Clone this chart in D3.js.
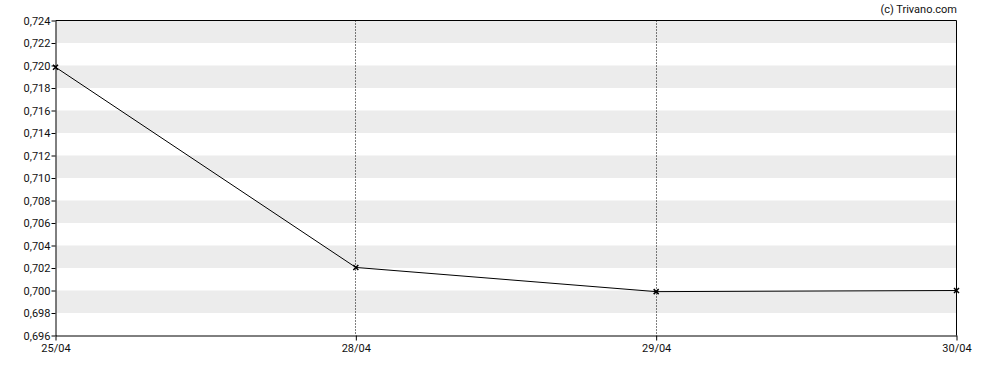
<!DOCTYPE html>
<html><head><meta charset="utf-8">
<script src="https://cdn.jsdelivr.net/npm/d3@7"></script>
<style>body{margin:0;background:#fff}svg{display:block;font-family:Roboto,sans-serif}</style>
</head><body><svg id="c" width="988" height="370"></svg>
<script>
const categories = ["25/04","28/04","29/04","30/04"];
const values = [0.71985, 0.70205, 0.6999, 0.7000];
const yTicks = [0.696,0.698,0.700,0.702,0.704,0.706,0.708,0.710,0.712,0.714,0.716,0.718,0.720,0.722,0.724];
const credit = "(c) Trivano.com";

const svg = d3.select("#c");
const L=55.5, R=956.5, T=20.5, B=335.5;
const x = d3.scalePoint().domain(categories).range([L,R]);
const y = d3.scaleLinear().domain([0.696,0.724]).range([B,T]);
const fmt = v => d3.format(".3f")(v).replace(".",",");

// bands
const bands = yTicks.slice(0,-1).filter((d,i)=>i%2===1);
svg.append("g").selectAll("rect").data(bands).join("rect")
  .attr("x",L).attr("width",R-L)
  .attr("y",d=>y(d+0.002)).attr("height",d=>y(d)-y(d+0.002))
  .attr("fill","#ececec");

// vertical dotted lines
svg.append("g").selectAll("line").data(categories.slice(1,-1)).join("line")
  .attr("x1",d=>Math.floor(x(d))+0.5).attr("x2",d=>Math.floor(x(d))+0.5)
  .attr("y1",T).attr("y2",B)
  .attr("stroke","#000").attr("stroke-width",1).attr("stroke-dasharray","1,2");

// frame top and right
svg.append("line").attr("x1",L).attr("x2",R).attr("y1",T).attr("y2",T).attr("stroke","#000");
svg.append("line").attr("x1",R).attr("x2",R).attr("y1",T).attr("y2",B).attr("stroke","#000");

// axes
const yAxis = d3.axisLeft(y).tickValues(yTicks).tickFormat(fmt).tickSize(4).tickSizeOuter(0);
const gy = svg.append("g").attr("transform",`translate(${L},0)`).call(yAxis);
const xAxis = d3.axisBottom(x).tickSize(5).tickSizeOuter(0);
const gx = svg.append("g").attr("transform",`translate(0,${B})`).call(xAxis);
[gy,gx].forEach(g=>{
  g.selectAll("text").attr("font-size",11).attr("font-family","Roboto,sans-serif").attr("fill","#111");
  g.selectAll("line,path").attr("stroke","#000");
});
gy.selectAll("text").attr("x",-5);
gx.selectAll("text").attr("y",9);

// line
svg.append("path").datum(values)
  .attr("d",d3.line().x((d,i)=>x(categories[i])).y(d=>y(d)))
  .attr("fill","none").attr("stroke","#000").attr("stroke-width",1);

// markers
const m = svg.append("g").selectAll("g").data(values).join("g")
  .attr("transform",(d,i)=>`translate(${x(categories[i])},${y(d)})`);
m.append("path").attr("d","M-2.5,-2.5L2.5,2.5M-2.5,2.5L2.5,-2.5")
  .attr("stroke","#000").attr("stroke-width",1.5);

svg.append("text").attr("x",957).attr("y",13).attr("text-anchor","end")
  .attr("font-size",11).attr("fill","#111").text(credit);
</script></body></html>
